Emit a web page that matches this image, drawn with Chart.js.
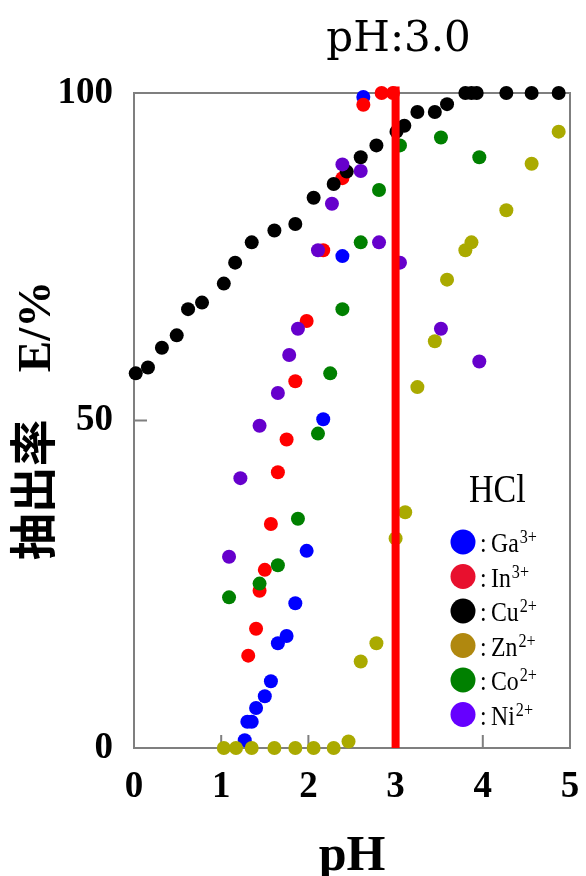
<!DOCTYPE html>
<html>
<head>
<meta charset="utf-8">
<script src="https://cdn.jsdelivr.net/npm/chart.js@4.4.0/dist/chart.umd.min.js"></script>
<style>
  html, body { margin: 0; padding: 0; background: #fff; }
  #wrap { width: 586px; height: 876px; }
</style>
</head>
<body>
<div id="wrap"><canvas id="extractionChart" width="586" height="876"></canvas></div>
<script>
// extraction (E/%) against equilibrium pH, HCl system
var ions = ["Ga", "In", "Cu", "Zn", "Co", "Ni"];
var charges = ["3+", "3+", "2+", "2+", "2+", "2+"];

var gaPH = [1.27, 1.30, 1.35, 1.40, 1.50, 1.57, 1.65, 1.75, 1.85, 1.98, 2.17, 2.39, 2.63];
var gaE  = [1.2, 4.0, 4.0, 6.1, 7.9, 10.2, 16.0, 17.1, 22.1, 30.1, 50.2, 75.1, 99.4];

var inPH = [1.31, 1.40, 1.44, 1.50, 1.57, 1.65, 1.75, 1.85, 1.98, 2.17, 2.39, 2.63, 2.84, 2.97];
var inE  = [14.1, 18.2, 24.0, 27.2, 34.2, 42.1, 47.1, 56.0, 65.2, 76.0, 87.0, 98.2, 100, 100];

var cuPH = [0.02, 0.16, 0.32, 0.49, 0.62, 0.78, 1.03, 1.16, 1.35, 1.61, 1.85, 2.06, 2.29, 2.44,
            2.60, 2.78, 3.01, 3.10, 3.25, 3.45, 3.59, 3.80, 3.87, 3.93, 4.27, 4.56, 4.87];
var cuE  = [57.2, 58.1, 61.1, 63.0, 67.0, 68.0, 70.9, 74.1, 77.2, 79.0, 80.0, 84.0, 86.1, 88.0,
            90.2, 92.0, 94.1, 95.0, 97.1, 97.1, 98.3, 100, 100, 100, 100, 100, 100];

var znPH = [1.03, 1.17, 1.35, 1.61, 1.85, 2.06, 2.29, 2.46, 2.60, 2.78, 3.00, 3.11, 3.25, 3.45,
            3.59, 3.80, 3.87, 4.27, 4.56, 4.87];
var znE  = [0, 0, 0, 0, 0, 0, 0, 1.0, 13.2, 16.0, 32.0, 36.0, 55.1, 62.1,
            71.5, 76.0, 77.2, 82.1, 89.2, 94.1];

var coPH = [1.09, 1.44, 1.65, 1.88, 2.11, 2.25, 2.39, 2.60, 2.81, 3.05, 3.52, 3.96];
var coE  = [23.0, 25.1, 27.9, 35.0, 48.0, 57.2, 67.0, 77.2, 85.2, 92.0, 93.2, 90.2];

var niPH = [1.09, 1.22, 1.44, 1.65, 1.78, 1.88, 2.11, 2.27, 2.39, 2.60, 2.81, 3.05, 3.52, 3.96];
var niE  = [29.2, 41.2, 49.2, 54.2, 60.0, 64.0, 76.0, 83.1, 89.1, 88.1, 77.2, 74.1, 64.0, 59.0];

var markerPH = 3.0;
var markerE = [0, 101];

var xTicks = [0, 1, 2, 3, 4, 5];
var yTicks = [0, 50, 100];

var pointColors  = ["#0000ff", "#ff0000", "#000000", "#aaaa00", "#008000", "#6600cc"];
var legendColors = ["#0000ff", "#e8102e", "#000000", "#b0880f", "#008000", "#6600ff"];

function toPoints(xs, ys) {
  return xs.map(function (x, i) { return { x: x, y: ys[i] }; });
}

var seriesX = [gaPH, inPH, cuPH, znPH, coPH, niPH];
var seriesY = [gaE, inE, cuE, znE, coE, niE];

var datasets = ions.map(function (ion, i) {
  return {
    label: ion + charges[i],
    data: toPoints(seriesX[i], seriesY[i]),
    pointRadius: 7,
    pointBorderWidth: 0,
    pointBackgroundColor: pointColors[i],
    borderColor: pointColors[i],
    clip: false,
    order: ions.length - i
  };
});

datasets.push({
  type: "line",
  label: "pH 3.0",
  data: markerE.map(function (e) { return { x: markerPH, y: e }; }),
  borderColor: "#ff0000",
  borderWidth: 8,
  pointRadius: 0,
  showLine: true,
  clip: false,
  order: 0
});

function drawSquashed(ctx, text, x, y, font, sx) {
  ctx.save();
  ctx.font = font;
  ctx.translate(x, y);
  ctx.scale(sx, 1);
  ctx.fillText(text, 0, 0);
  var w = ctx.measureText(text).width * sx;
  ctx.restore();
  return x + w;
}

var framePlugin = {
  id: "frame",
  beforeDatasetsDraw: function (chart) {
    var ctx = chart.ctx, a = chart.chartArea;
    var xs = chart.scales.x, ys = chart.scales.y;
    ctx.save();
    ctx.strokeStyle = "#7f7f7f";
    ctx.lineWidth = 2;
    ctx.strokeRect(a.left, a.top, a.right - a.left, a.bottom - a.top);
    ctx.beginPath();
    xs.ticks.forEach(function (t) {
      var px = xs.getPixelForValue(t.value);
      ctx.moveTo(px, a.bottom);
      ctx.lineTo(px, a.bottom - 13);
    });
    ys.ticks.forEach(function (t) {
      var py = ys.getPixelForValue(t.value);
      ctx.moveTo(a.left, py);
      ctx.lineTo(a.left + 13, py);
    });
    ctx.stroke();
    ctx.restore();
  }
};

var labelPlugin = {
  id: "labels",
  afterDraw: function (chart) {
    var ctx = chart.ctx;
    var xs = chart.scales.x;
    ctx.save();
    ctx.fillStyle = "#000";
    ctx.textBaseline = "alphabetic";

    // pH:3.0 over the marker line
    ctx.font = '42px "DejaVu Serif"';
    ctx.textAlign = "center";
    ctx.fillText("pH:" + markerPH.toFixed(1), xs.getPixelForValue(markerPH) + 3, 51);

    // legend
    ctx.textAlign = "left";
    drawSquashed(ctx, "HCl", 469, 502, '40px "Liberation Serif"', 0.85);
    ions.forEach(function (ion, i) {
      var cy = 542 + i * 34.5;
      ctx.fillStyle = legendColors[i];
      ctx.beginPath();
      ctx.arc(463, cy, 12.5, 0, Math.PI * 2);
      ctx.fill();
      ctx.fillStyle = "#000";
      drawSquashed(ctx, ":", 480, cy + 10, '28px "Liberation Serif"', 0.85);
      var x = drawSquashed(ctx, ion, 491, cy + 10, '28px "Liberation Serif"', 0.85);
      drawSquashed(ctx, charges[i], x + 1, cy + 1, '19px "Liberation Serif"', 0.85);
    });
    ctx.restore();
  }
};

var tickFont = { family: '"Liberation Serif", serif', weight: "bold", size: 37 };

var ctx = document.getElementById("extractionChart").getContext("2d");
var chart = new Chart(ctx, {
  type: "scatter",
  data: { datasets: datasets },
  options: {
    responsive: false,
    animation: false,
    devicePixelRatio: 1,
    layout: { padding: { top: 93, right: 16, left: 0, bottom: 0 } },
    plugins: {
      legend: { display: false },
      tooltip: { enabled: false }
    },
    scales: {
      x: {
        type: "linear",
        min: 0,
        max: 5,
        grid: { display: false, drawTicks: false },
        border: { display: false },
        afterBuildTicks: function (s) {
          s.ticks = xTicks.map(function (v) { return { value: v }; });
        },
        ticks: { padding: 17, color: "#000", font: tickFont },
        title: {
          display: true,
          text: "pH",
          color: "#000",
          font: { family: '"Liberation Serif", serif', weight: "bold", size: 50, lineHeight: 1 },
          padding: { top: 0, bottom: -6 }
        },
        afterFit: function (s) {
          s.height = 128;
          s.paddingLeft = 0;
          s.paddingRight = 0;
        }
      },
      y: {
        type: "linear",
        min: 0,
        max: 100,
        grid: { display: false, drawTicks: false },
        border: { display: false },
        afterBuildTicks: function (s) {
          s.ticks = yTicks.map(function (v) { return { value: v }; });
        },
        ticks: { padding: 21, color: "#000", font: tickFont },
        title: {
          display: true,
          text: "抽出率　E/%",
          color: "#000",
          font: { family: '"Liberation Serif", "Noto Sans CJK JP", serif', weight: "bold", size: 47 },
          padding: { top: 10, bottom: 0 }
        },
        afterFit: function (s) {
          s.width = 134;
          s.paddingTop = 0;
          s.paddingBottom = 0;
        }
      }
    }
  },
  plugins: [framePlugin, labelPlugin]
});
</script>
</body>
</html>
